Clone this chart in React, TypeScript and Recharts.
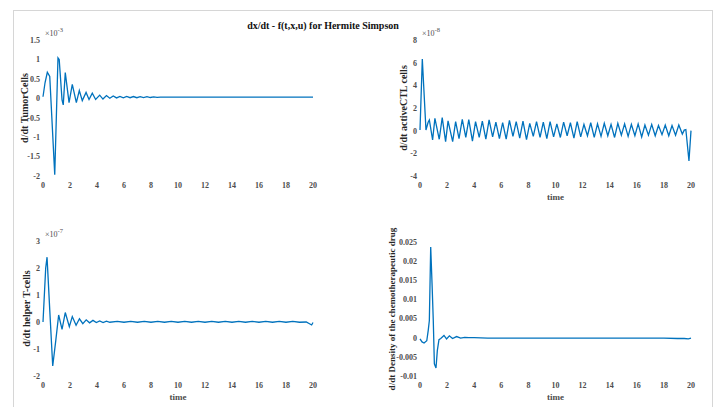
import React from "react";
import { LineChart, Line, XAxis, YAxis } from "recharts";

const FONT = "'Liberation Serif', 'Times New Roman', serif";
const BLUE = "#0072BD";

const timeTicks = [0, 2, 4, 6, 8, 10, 12, 14, 16, 18, 20];

// d/dt tumor cells (x 10^-3)
const tumorT = [0, 0.15, 0.32, 0.5, 0.87, 1.11, 1.2, 1.41, 1.5, 1.65, 1.93, 2.17, 2.47, 2.69, 2.91, 3.19, 3.41, 3.65, 3.9, 4.2, 4.44, 4.7, 4.95, 5.2, 5.45, 5.7, 5.95, 6.2, 6.45, 6.7, 6.95, 7.2, 7.45, 7.7, 7.95, 8.2, 8.45, 8.7, 9, 10, 12, 14, 16, 18, 20];
const tumorV = [0.04, 0.4, 0.67, 0.56, -1.97, 1.04, 1.0, -0.04, -0.17, 0.66, -0.11, 0.36, -0.11, 0.2, -0.06, 0.15, -0.03, 0.13, -0.03, 0.08, -0.02, 0.07, 0.0, 0.06, 0.01, 0.05, 0.01, 0.05, 0.015, 0.045, 0.015, 0.04, 0.02, 0.04, 0.02, 0.035, 0.025, 0.03, 0.03, 0.03, 0.03, 0.03, 0.03, 0.03, 0.03];
const tumorTicks = [-2, -1.5, -1, -0.5, 0, 0.5, 1, 1.5];

// d/dt active CTL cells (x 10^-8)
const ctlT = [0, 0.17, 0.44, 0.6, 0.69, 0.93, 1.1, 1.42, 1.64, 1.89, 2.07, 2.41, 2.63, 2.88, 3.12, 3.38, 3.6, 3.87, 4.1, 4.37, 4.6, 4.86, 5.1, 5.36, 5.6, 5.86, 6.1, 6.36, 6.6, 6.86, 7.1, 7.36, 7.6, 7.86, 8.1, 8.36, 8.6, 8.86, 9.1, 9.36, 9.6, 9.86, 10.1, 10.36, 10.6, 10.86, 11.1, 11.36, 11.6, 11.86, 12.1, 12.36, 12.6, 12.86, 13.1, 13.36, 13.6, 13.86, 14.1, 14.36, 14.6, 14.86, 15.1, 15.36, 15.6, 15.86, 16.1, 16.36, 16.6, 16.86, 17.1, 17.36, 17.6, 17.86, 18.1, 18.36, 18.6, 18.86, 19.1, 19.36, 19.5, 19.62, 19.85, 20];
const ctlV = [0.06, 6.33, 0.06, 0.74, 0.94, -0.82, 1.09, -0.76, 1.15, -0.97, 0.86, -0.97, 0.8, -0.7, 1.0, -0.6, 0.98, -0.92, 0.8, -0.6, 0.85, -0.75, 0.95, -0.55, 0.75, -0.7, 0.7, -0.75, 0.9, -0.5, 0.8, -0.65, 0.85, -0.8, 0.65, -0.5, 0.8, -0.6, 0.75, -0.7, 0.8, -0.55, 0.6, -0.6, 0.75, -0.45, 0.7, -0.65, 0.8, -0.55, 0.55, -0.45, 0.7, -0.6, 0.6, -0.5, 0.65, -0.45, 0.55, -0.6, 0.65, -0.4, 0.6, -0.5, 0.55, -0.45, 0.6, -0.55, 0.5, -0.4, 0.55, -0.45, 0.45, -0.35, 0.5, -0.45, 0.45, -0.4, 0.5, -0.3, 0.05, 0.1, -2.67, 0.0];
const ctlTicks = [-4, -2, 0, 2, 4, 6, 8];

// d/dt helper T-cells (x 10^-7)
const helperT = [0, 0.2, 0.3, 0.5, 0.72, 0.95, 1.16, 1.41, 1.65, 1.95, 2.17, 2.45, 2.7, 2.95, 3.2, 3.45, 3.7, 3.95, 4.2, 4.45, 4.7, 4.95, 5.5, 6, 6.5, 7, 7.5, 8, 8.5, 9, 9.5, 10, 10.5, 11, 11.5, 12, 12.5, 13, 13.5, 14, 14.5, 15, 15.5, 16, 16.5, 17, 17.5, 18, 18.5, 19, 19.5, 19.9, 20];
const helperV = [0.0, 2.0, 2.4, 0.45, -1.63, -0.67, 0.26, -0.27, 0.35, -0.17, 0.2, -0.12, 0.12, -0.06, 0.08, -0.03, 0.06, -0.02, 0.04, -0.02, 0.03, -0.01, 0.02, -0.01, 0.02, -0.01, 0.02, -0.01, 0.02, -0.01, 0.02, -0.01, 0.02, -0.01, 0.02, -0.01, 0.02, -0.01, 0.02, -0.01, 0.02, -0.01, 0.02, -0.01, 0.02, -0.01, 0.02, -0.01, 0.02, -0.01, 0.0, -0.11, -0.02];
const helperTicks = [-2, -1, 0, 1, 2, 3];

// d/dt density of the chemotherapeutic drug
const drugT = [0, 0.15, 0.3, 0.5, 0.61, 0.69, 0.79, 0.9, 0.98, 1.06, 1.18, 1.28, 1.4, 1.53, 1.77, 1.96, 2.17, 2.4, 2.7, 3.0, 3.3, 3.6, 4, 5, 6, 7, 8, 9, 10, 11, 12, 13, 14, 15, 16, 17, 18, 19, 19.5, 19.8, 20];
const drugV = [-0.0003, -0.0011, -0.0014, -0.0008, 0.002, 0.0045, 0.0237, 0.013, 0.0045, -0.0068, -0.0079, -0.0033, -0.0005, -0.0002, 0.0006, -0.0003, 0.0005, -0.0002, 0.0003, -0.0001, 0.0001, 0.0, 0.0, -0.0001, -0.0001, -0.0001, -0.0001, -0.0001, -0.0001, -0.0001, -0.0001, -0.0001, -0.0001, -0.0001, -0.0001, -0.0001, -0.0001, -0.0002, -0.0002, -0.0003, -0.0001];
const drugTicks = [-0.01, -0.005, 0, 0.005, 0.01, 0.015, 0.02, 0.025];

const toRows = (ts: number[], vs: number[]) => ts.map((t, i) => ({ t, v: vs[i] }));

type PanelProps = {
  left: number;
  top: number;
  width: number;
  height: number;
  margin: { top: number; right: number; bottom: number; left: number };
  yWidth: number;
  xHeight: number;
  ts: number[];
  vs: number[];
  ticks: number[];
  yLabel: string;
  yLabelX: number;
  yLabelSize: number;
  exponent?: string;
  showTime: boolean;
};

function Panel(p: PanelProps) {
  const data = toRows(p.ts, p.vs);
  const renderYLabel = (props: any) => {
    const vb = props.viewBox;
    const cy = vb.y + vb.height / 2;
    const plotLeft = vb.x + vb.width;
    return (
      <g>
        <text
          x={p.yLabelX}
          y={cy}
          transform={`rotate(-90 ${p.yLabelX} ${cy})`}
          textAnchor="middle"
          dominantBaseline="central"
          fontFamily={FONT}
          fontWeight="bold"
          fontSize={p.yLabelSize}
          fill="#262626"
        >
          {p.yLabel}
        </text>
        {p.exponent && (
          <text x={plotLeft + 2} y={vb.y - 4} fontFamily={FONT} fontSize={8} fill="#4d4d4d">
            ×10
            <tspan dy={-4} fontSize={6.5}>
              {p.exponent}
            </tspan>
          </text>
        )}
      </g>
    );
  };
  const renderXLabel = (props: any) => {
    const vb = props.viewBox;
    return (
      <text
        x={vb.x + vb.width / 2}
        y={vb.y + 24}
        textAnchor="middle"
        fontFamily={FONT}
        fontWeight="bold"
        fontSize={9}
        fill="#4d4d4d"
      >
        time
      </text>
    );
  };
  const tickStyle = { fontFamily: FONT, fontWeight: "bold", fontSize: 8, fill: "#4d4d4d" };
  return (
    <div style={{ position: "absolute", left: p.left, top: p.top }}>
      <LineChart width={p.width} height={p.height} data={data} margin={p.margin}>
        <XAxis
          dataKey="t"
          type="number"
          domain={[0, 20]}
          ticks={timeTicks}
          axisLine={false}
          tickLine={false}
          tickSize={4}
          tickMargin={2}
          height={p.xHeight}
          tick={tickStyle}
          interval={0}
          label={p.showTime ? { content: renderXLabel } : undefined}
        />
        <YAxis
          type="number"
          domain={[p.ticks[0], p.ticks[p.ticks.length - 1]]}
          ticks={p.ticks}
          axisLine={false}
          tickLine={false}
          tickSize={3}
          tickMargin={0}
          width={p.yWidth}
          tick={tickStyle}
          interval={0}
          allowDataOverflow
          label={{ content: renderYLabel }}
        />
        <Line
          dataKey="v"
          type="linear"
          stroke={BLUE}
          strokeWidth={1.3}
          dot={false}
          activeDot={false}
          isAnimationActive={false}
        />
      </LineChart>
    </div>
  );
}

export default function App() {
  return (
    <div
      style={{
        position: "absolute",
        left: 0,
        top: 0,
        width: 720,
        height: 407,
        overflow: "hidden",
        background: "#fff",
      }}
    >
      <div
        style={{
          position: "absolute",
          left: 13,
          top: 10,
          width: 698,
          height: 430,
          border: "1px solid #d6d6d6",
        }}
      />
      <div
        style={{
          position: "absolute",
          left: 0,
          top: 20,
          width: 646,
          textAlign: "center",
          fontFamily: FONT,
          fontWeight: "bold",
          fontSize: 10,
          color: "#111",
        }}
      >
        dx/dt - f(t,x,u) for Hermite Simpson
      </div>
      <Panel
        left={0}
        top={0}
        width={360}
        height={205}
        margin={{ top: 40, right: 47, bottom: 9, left: 8 }}
        yWidth={35}
        xHeight={20}
        ts={tumorT}
        vs={tumorV}
        ticks={tumorTicks}
        yLabel="d/dt TumorCells"
        yLabelX={24}
        yLabelSize={10}
        exponent="-3"
        showTime={false}
      />
      <Panel
        left={360}
        top={0}
        width={360}
        height={205}
        margin={{ top: 40, right: 29, bottom: 1, left: 25 }}
        yWidth={35}
        xHeight={28}
        ts={ctlT}
        vs={ctlV}
        ticks={ctlTicks}
        yLabel="d/dt activeCTL cells"
        yLabelX={43}
        yLabelSize={10}
        exponent="-8"
        showTime={true}
      />
      <Panel
        left={0}
        top={205}
        width={360}
        height={202}
        margin={{ top: 36, right: 47, bottom: 3, left: 8 }}
        yWidth={35}
        xHeight={28}
        ts={helperT}
        vs={helperV}
        ticks={helperTicks}
        yLabel="d/dt helper T-cells"
        yLabelX={26}
        yLabelSize={10}
        exponent="-7"
        showTime={true}
      />
      <Panel
        left={360}
        top={205}
        width={360}
        height={202}
        margin={{ top: 37, right: 29, bottom: 3, left: 10 }}
        yWidth={50}
        xHeight={28}
        ts={drugT}
        vs={drugV}
        ticks={drugTicks}
        yLabel="d/dt Density of the chemotherapeutic drug"
        yLabelX={32}
        yLabelSize={9}
        showTime={true}
      />
    </div>
  );
}
